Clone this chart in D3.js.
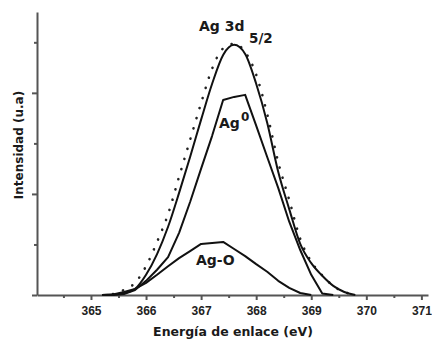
<!DOCTYPE html>
<head>
<meta charset="utf-8">
<script src="https://d3js.org/d3.v7.min.js"></script>
<style>
body { margin:0; background:#fff; }
svg { display:block; background:#fff; }
.axis path, .axis line { fill:none; stroke:#555; stroke-width:2; }
.axis text { font: bold 12px "Liberation Sans", Arial, sans-serif; fill:#222; }
.lbl { font-family: "DejaVu Sans", sans-serif; font-weight:bold; fill:#1a1a1a; }
.curve { fill:none; stroke:#111; stroke-width:2; stroke-linejoin:round; }
.exp { fill:none; stroke:#222; stroke-width:2.6; stroke-linecap:round; stroke-dasharray:0.1,10.5; }
</style>
</head>
<body>
<script>
// binding energy grid (eV)
var energy = [365.2, 365.4, 365.6, 365.8, 366.0, 366.2, 366.4, 366.6, 366.8, 367.0,
              367.2, 367.4, 367.6, 367.8, 368.0, 368.2, 368.4, 368.6, 368.8, 369.0,
              369.2, 369.4, 369.6, 369.8, 370.0];

// measured spectrum (dots)
var experimental = [null, 0.02, 0.10, 0.24, 0.57, 1.05, 1.60, 2.34, 3.07, 3.80,
                    4.48, 4.88, 4.97, 4.81, 4.36, 3.58, 2.63, 1.88, 1.11, 0.66,
                    0.39, 0.18, 0.06, 0.00, null];

// total fit envelope
var envelope = [0.00, 0.01, 0.04, 0.12, 0.40, 0.81, 1.35, 2.02, 2.73, 3.47,
                4.18, 4.75, 4.95, 4.77, 4.18, 3.41, 2.44, 1.70, 1.01, 0.63,
                0.38, 0.18, 0.06, 0.00, null];

// metallic silver component
var ag0 = [0.00, 0.00, 0.02, 0.10, 0.28, 0.50, 0.75, 1.23, 1.84, 2.50,
           3.15, 3.86, 3.92, 3.96, 3.35, 2.73, 2.12, 1.45, 0.89, 0.40,
           0.03, 0.00, null, null, null];

// oxide component
var agO = [0.00, 0.01, 0.06, 0.12, 0.24, 0.40, 0.57, 0.73, 0.87, 1.01,
           1.03, 1.05, 0.91, 0.77, 0.61, 0.46, 0.28, 0.14, 0.04, 0.00,
           null, null, null, null, null];

var xMajor = [365, 366, 367, 368, 369, 370, 371];
var xMinor = [364.5, 365.5, 366.5, 367.5, 368.5, 369.5, 370.5];
var yMajor = [0, 2, 4];
var yMinor = [1, 3, 5];

var width = 432, height = 339;

var svg = d3.select('body').append('svg')
    .attr('width', width)
    .attr('height', height);

var x = d3.scaleLinear().domain([364.02, 371.12]).range([37, 428]);
var y = d3.scaleLinear().domain([0, 5.6]).range([295, 12]);

function series(vals){
    return energy.map(function(e, i){ return {e:e, v:vals[i]}; });
}

var smooth = d3.line()
    .defined(function(d){ return d.v != null; })
    .x(function(d){ return x(d.e); })
    .y(function(d){ return y(d.v); })
    .curve(d3.curveMonotoneX);

var straight = d3.line()
    .defined(function(d){ return d.v != null; })
    .x(function(d){ return x(d.e); })
    .y(function(d){ return y(d.v); });

// minor ticks first, then the main axes on top
svg.append('g').attr('class', 'axis')
    .attr('transform', 'translate(0,' + y(0) + ')')
    .call(d3.axisBottom(x).tickValues(xMinor).tickSize(3).tickSizeOuter(0).tickFormat(''))
    .select('.domain').remove();

svg.append('g').attr('class', 'axis')
    .attr('transform', 'translate(' + x.range()[0] + ',0)')
    .call(d3.axisLeft(y).tickValues(yMinor).tickSize(3).tickSizeOuter(0).tickFormat(''))
    .select('.domain').remove();

svg.append('g').attr('class', 'axis')
    .attr('transform', 'translate(0,' + y(0) + ')')
    .call(d3.axisBottom(x).tickValues(xMajor).tickSize(5).tickSizeOuter(0)
          .tickPadding(6).tickFormat(d3.format('d')));

svg.append('g').attr('class', 'axis')
    .attr('transform', 'translate(' + x.range()[0] + ',0)')
    .call(d3.axisLeft(y).tickValues(yMajor).tickSize(5).tickSizeOuter(0).tickFormat(''));

// curves
svg.append('path').attr('class', 'exp').attr('d', smooth(series(experimental)));
svg.append('path').attr('class', 'curve').attr('d', smooth(series(envelope)));
svg.append('path').attr('class', 'curve').attr('d', straight(series(ag0)));
svg.append('path').attr('class', 'curve').attr('d', straight(series(agO)));

// peak labels
var t = svg.append('text').attr('class', 'lbl').attr('x', 199).attr('y', 31).attr('font-size', 14);
t.append('tspan').text('Ag 3d');
t.append('tspan').attr('x', 249).attr('y', 43).attr('font-size', 13.5).text('5/2');

var a = svg.append('text').attr('class', 'lbl').attr('x', 219).attr('y', 128).attr('font-size', 14);
a.append('tspan').text('Ag');
a.append('tspan').attr('x', 241).attr('y', 121).attr('font-size', 12).text('0');

svg.append('text').attr('class', 'lbl').attr('x', 196).attr('y', 265).attr('font-size', 14).text('Ag-O');

// axis titles
svg.append('text').attr('class', 'lbl')
    .attr('x', 233).attr('y', 336)
    .attr('text-anchor', 'middle').attr('font-size', 12.5)
    .text('Energía de enlace (eV)');

svg.append('text').attr('class', 'lbl')
    .attr('transform', 'translate(23,145) rotate(-90)')
    .attr('text-anchor', 'middle').attr('font-size', 12)
    .text('Intensidad (u.a)');
</script>
</body>
